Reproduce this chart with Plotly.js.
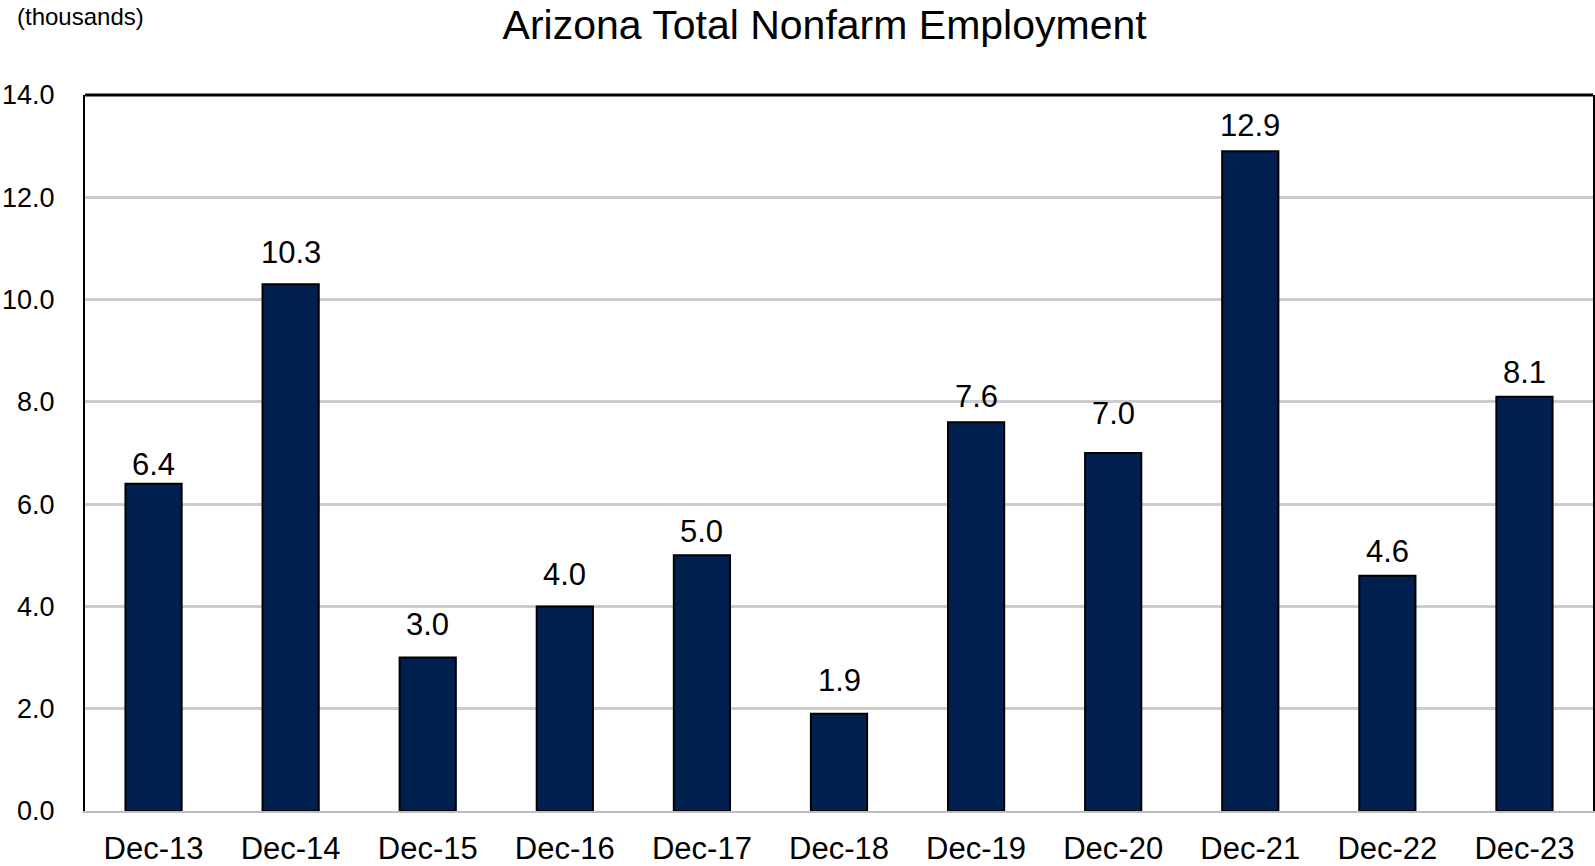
<!DOCTYPE html>
<html><head><meta charset="utf-8">
<script src="https://cdn.plot.ly/plotly-3.0.1.min.js"></script>
<style>html,body{margin:0;padding:0;background:#fff}#chart{width:1595px;height:866px}</style>
</head><body><div id="chart"></div>
<script>
const categories = ["Dec-13","Dec-14","Dec-15","Dec-16","Dec-17","Dec-18","Dec-19","Dec-20","Dec-21","Dec-22","Dec-23"];
const values = [6.4, 10.3, 3.0, 4.0, 5.0, 1.9, 7.6, 7.0, 12.9, 4.6, 8.1];
const yTicks = [0,2,4,6,8,10,12,14];
const yTickLabels = ["0.0","2.0","4.0","6.0","8.0","10.0","12.0","14.0"];
// style only: pixel lift of each value label above its bar (as placed in the original)
const labelLift = [19, 32, 33, 32, 24, 33, 26, 40, 26, 24, 24];
const FONT = "Liberation Sans, Arial, sans-serif";

const trace = {
  type: "bar", x: categories, y: values,
  marker: {color: "#002050", line: {color: "#000", width: 2}},
  hoverinfo: "none"
};
const labelAnnotations = categories.map((c, i) => ({
  x: c, y: values[i], xref: "x", yref: "y", text: values[i].toFixed(1),
  showarrow: false, xanchor: "center", yanchor: "middle", yshift: labelLift[i],
  font: {family: FONT, size: 31, color: "#000"}
}));
const layout = {
  width: 1595, height: 866,
  margin: {l: 85, r: 2, t: 95, b: 55},
  paper_bgcolor: "#fff", plot_bgcolor: "#fff",
  bargap: 0.59, showlegend: false,
  title: {text: "Arizona Total Nonfarm Employment", font: {family: FONT, size: 41, color: "#000"},
          x: 0.517, xanchor: "center", y: 0.971, yanchor: "middle"},
  xaxis: {type: "category", showline: true, linecolor: "#bdbdbd", linewidth: 2,
          ticks: "", tickfont: {family: FONT, size: 31, color: "#000"}, ticklabelstandoff: 9,
          showgrid: false, zeroline: false, fixedrange: true},
  yaxis: {range: [0, 14], tickvals: yTicks, ticktext: yTickLabels,
          tickfont: {family: FONT, size: 27, color: "#000"}, ticklabelstandoff: 23,
          showgrid: true, gridcolor: "#cccccc", gridwidth: 3, zeroline: false,
          showline: true, linecolor: "#000", linewidth: 2, mirror: true, ticks: "", fixedrange: true},
  shapes: [{type: "line", xref: "paper", yref: "paper", x0: 0, x1: 1, y0: 1, y1: 1, line: {color: "#000", width: 3}}],
  annotations: [{text: "(thousands)", xref: "paper", yref: "paper", x: -0.0465, y: 1.109, xanchor: "left", yanchor: "middle",
                 showarrow: false, font: {family: FONT, size: 24, color: "#000"}}].concat(labelAnnotations)
};
Plotly.newPlot("chart", [trace], layout, {displayModeBar: false, staticPlot: true});
</script></body></html>
